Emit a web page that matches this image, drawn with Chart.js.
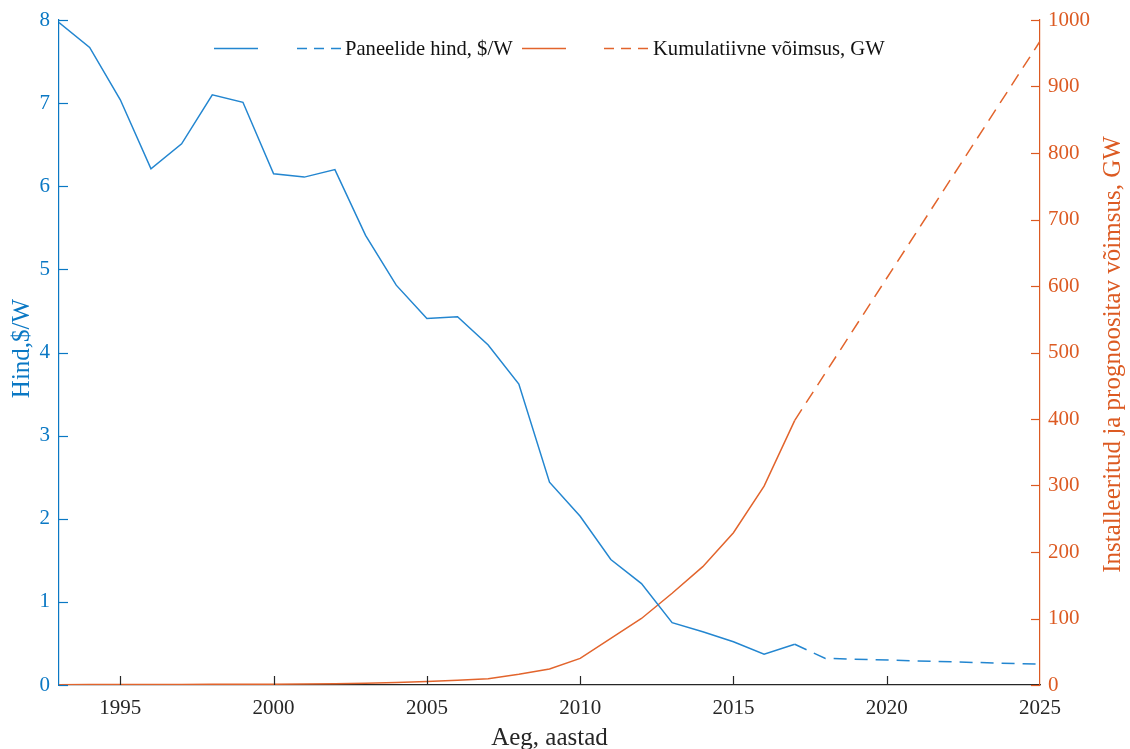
<!DOCTYPE html>
<html>
<head>
<meta charset="utf-8">
<title>Paneelide hind ja kumulatiivne võimsus</title>
<script src="https://cdn.jsdelivr.net/npm/chart.js@4"></script>
<style>
  html, body { margin: 0; padding: 0; background: #ffffff; }
  #wrap { width: 1130px; height: 749px; }
</style>
</head>
<body>
<div id="wrap"><canvas id="c" width="1130" height="749"></canvas></div>
<script>
// Measured history (1993–2017)
const years = [1993, 1994, 1995, 1996, 1997, 1998, 1999, 2000, 2001, 2002, 2003, 2004, 2005,
               2006, 2007, 2008, 2009, 2010, 2011, 2012, 2013, 2014, 2015, 2016, 2017];
const price = [7.97, 7.67, 7.04, 6.21, 6.51, 7.10, 7.01, 6.15, 6.11, 6.20, 5.41, 4.81, 4.41,
               4.43, 4.09, 3.62, 2.44, 2.03, 1.51, 1.22, 0.75, 0.64, 0.52, 0.37, 0.49];
const capacity = [0.5, 0.6, 0.7, 0.8, 0.9, 1.0, 1.2, 1.3, 1.6, 2.0, 2.8, 3.9, 5.4,
                  7.0, 9.5, 16, 24, 40, 70, 100, 138, 178, 229, 299, 398];

// Forecast (dashed)
const priceForecastYears = [2017, 2018, 2025];
const priceForecast = [0.49, 0.32, 0.25];
const capacityForecastYears = [2017, 2025];
const capacityForecast = [398, 968];

// Axis ticks
const xTicks = [1995, 2000, 2005, 2010, 2015, 2020, 2025];
const priceTicks = [0, 1, 2, 3, 4, 5, 6, 7, 8];
const capacityTicks = [0, 100, 200, 300, 400, 500, 600, 700, 800, 900, 1000];

// Texts
const legendLabels = ['', 'Paneelide hind, $/W', '', 'Kumulatiivne võimsus, GW'];
const xTitle = 'Aeg, aastad';
const leftTitle = 'Hind,$/W';
const rightTitle = 'Installeeritud ja prognoositav võimsus, GW';

const BLUE = '#0a78c4';
const BLUE_LINE = '#2386d0';
const ORANGE = '#dc5a22';
const ORANGE_LINE = '#e2642c';
const AXIS = '#262626';
const FONT = '"Liberation Serif", "Times New Roman", serif';
const DASH = [13, 8];

const pts = (xs, ys) => xs.map((x, i) => ({ x: x, y: ys[i] }));

// Inward-pointing tick marks on all three axes
const inwardTicks = {
  id: 'inwardTicks',
  afterDraw(chart) {
    const { ctx, chartArea: a, scales } = chart;
    const L = 9;
    ctx.save();
    ctx.lineWidth = 1.2;
    ctx.strokeStyle = AXIS;
    scales.x.ticks.forEach(t => {
      const px = Math.round(scales.x.getPixelForValue(t.value)) + 0.5;
      if (px <= a.left + 1 || px >= a.right - 1) return;
      ctx.beginPath(); ctx.moveTo(px, a.bottom); ctx.lineTo(px, a.bottom - L); ctx.stroke();
    });
    ctx.strokeStyle = BLUE;
    scales.y.ticks.forEach(t => {
      const py = Math.round(scales.y.getPixelForValue(t.value)) + 0.5;
      ctx.beginPath(); ctx.moveTo(a.left, py); ctx.lineTo(a.left + L, py); ctx.stroke();
    });
    ctx.strokeStyle = ORANGE;
    scales.y2.ticks.forEach(t => {
      const py = Math.round(scales.y2.getPixelForValue(t.value)) + 0.5;
      ctx.beginPath(); ctx.moveTo(a.right, py); ctx.lineTo(a.right - L, py); ctx.stroke();
    });
    ctx.restore();
  }
};

// Axis titles (both vertical titles read bottom-to-top)
const axisTitles = {
  id: 'axisTitles',
  afterDraw(chart) {
    const { ctx, chartArea: a } = chart;
    ctx.save();
    ctx.font = '25px ' + FONT;
    ctx.textAlign = 'center';
    ctx.textBaseline = 'middle';
    ctx.fillStyle = AXIS;
    ctx.fillText(xTitle, (a.left + a.right) / 2, 738);

    ctx.save();
    ctx.translate(22, (a.top + a.bottom) / 2 - 4);
    ctx.rotate(-Math.PI / 2);
    ctx.fillStyle = BLUE;
    ctx.fillText(leftTitle, 0, 0);
    ctx.restore();

    ctx.save();
    ctx.translate(1113, (a.top + a.bottom) / 2 + 2);
    ctx.rotate(-Math.PI / 2);
    ctx.fillStyle = ORANGE;
    ctx.fillText(rightTitle, 0, 0);
    ctx.restore();
    ctx.restore();
  }
};

// Legend: line sample for every series, text after the dashed ones
const lineLegend = {
  id: 'lineLegend',
  afterDraw(chart) {
    const ctx = chart.ctx;
    const y = 48.5;
    const slots = [{ x: 214, w: 44 }, { x: 297, w: 44 }, { x: 522, w: 44 }, { x: 604, w: 45 }];
    ctx.save();
    ctx.font = '20.6px ' + FONT;
    ctx.textBaseline = 'middle';
    ctx.textAlign = 'left';
    chart.data.datasets.forEach((ds, i) => {
      const s = slots[i];
      ctx.strokeStyle = ds.borderColor;
      ctx.lineWidth = 1.5;
      ctx.setLineDash(ds.borderDash && ds.borderDash.length ? [10, 7] : []);
      ctx.beginPath(); ctx.moveTo(s.x, y); ctx.lineTo(s.x + s.w, y); ctx.stroke();
      if (ds.label) {
        ctx.setLineDash([]);
        ctx.fillStyle = '#111111';
        ctx.fillText(ds.label, s.x + s.w + 4, y + 1);
      }
    });
    ctx.restore();
  }
};

const tickFont = { family: FONT, size: 21 };

new Chart(document.getElementById('c'), {
  type: 'line',
  data: {
    datasets: [
      { label: legendLabels[0], data: pts(years, price), yAxisID: 'y',
        borderColor: BLUE_LINE, borderWidth: 1.5, pointRadius: 0, tension: 0 },
      { label: legendLabels[1], data: pts(priceForecastYears, priceForecast), yAxisID: 'y',
        borderColor: BLUE_LINE, borderWidth: 1.5, borderDash: DASH, pointRadius: 0, tension: 0 },
      { label: legendLabels[2], data: pts(years, capacity), yAxisID: 'y2',
        borderColor: ORANGE_LINE, borderWidth: 1.5, pointRadius: 0, tension: 0 },
      { label: legendLabels[3], data: pts(capacityForecastYears, capacityForecast), yAxisID: 'y2',
        borderColor: ORANGE_LINE, borderWidth: 1.5, borderDash: DASH, pointRadius: 0, tension: 0 }
    ]
  },
  options: {
    responsive: false,
    animation: false,
    devicePixelRatio: 1,
    layout: { padding: { top: 20, left: 0, right: 0, bottom: 0 } },
    plugins: { legend: { display: false }, tooltip: { enabled: false } },
    scales: {
      x: {
        type: 'linear', min: 1993, max: 2025,
        afterBuildTicks: s => { s.ticks = xTicks.map(v => ({ value: v })); },
        ticks: { font: tickFont, color: AXIS, padding: 11, maxRotation: 0, autoSkip: false,
                 callback: v => String(v) },
        grid: { display: false, drawTicks: false },
        border: { display: true, color: AXIS, width: 1.2 },
        afterFit: s => { s.height = 64; s.paddingLeft = 0; s.paddingRight = 0; }
      },
      y: {
        type: 'linear', position: 'left', min: 0, max: 8,
        afterBuildTicks: s => { s.ticks = priceTicks.map(v => ({ value: v })); },
        ticks: { font: tickFont, color: BLUE, padding: 9, autoSkip: false,
                 callback: v => String(v) },
        grid: { display: false, drawTicks: false },
        border: { display: true, color: BLUE, width: 1.2 },
        afterFit: s => { s.width = 59; s.paddingTop = 0; s.paddingBottom = 0; }
      },
      y2: {
        type: 'linear', position: 'right', min: 0, max: 1000,
        afterBuildTicks: s => { s.ticks = capacityTicks.map(v => ({ value: v })); },
        ticks: { font: tickFont, color: ORANGE, padding: 8, autoSkip: false,
                 callback: v => String(v) },
        grid: { display: false, drawTicks: false },
        border: { display: true, color: ORANGE, width: 1.2 },
        afterFit: s => { s.width = 90; s.paddingTop = 0; s.paddingBottom = 0; }
      }
    }
  },
  plugins: [inwardTicks, axisTitles, lineLegend]
});
</script>
</body>
</html>
